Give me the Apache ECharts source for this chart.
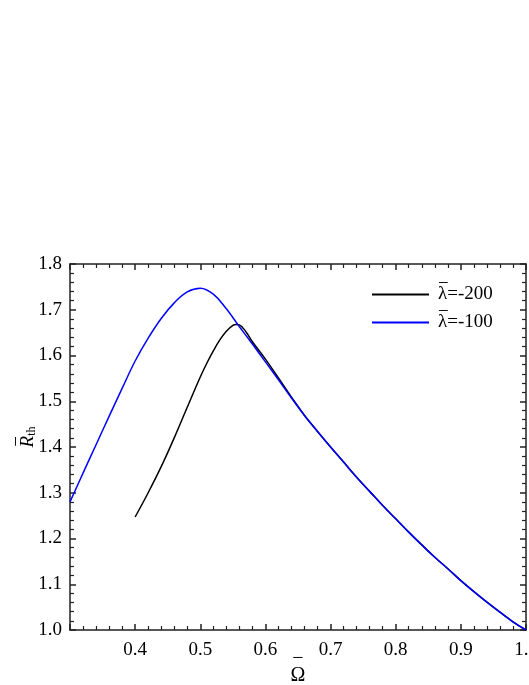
<!DOCTYPE html>
<html>
<head>
<meta charset="utf-8">
<script src="https://cdn.jsdelivr.net/npm/echarts@6/dist/echarts.min.js"></script>
<style>
  html, body { margin: 0; padding: 0; background: #fff; }
  #chart { width: 529px; height: 685px; }
</style>
</head>
<body>
<div id="chart"></div>
<script>
// lambda = -200 (black): starts near 0.4, peaks, then joins the blue curve
var omega200 = [0.40, 0.42, 0.44, 0.46, 0.48, 0.50, 0.51, 0.52, 0.53, 0.54, 0.55, 0.555, 0.56, 0.57, 0.58, 0.60, 0.62, 0.64, 0.66, 0.68, 0.70, 0.72, 0.74, 0.76, 0.78, 0.80, 0.82, 0.84, 0.86, 0.88, 0.90, 0.92, 0.94, 0.96, 0.98, 1.00];
var rth200 = [1.247, 1.300, 1.357, 1.420, 1.487, 1.553, 1.583, 1.610, 1.634, 1.653, 1.666, 1.668, 1.667, 1.652, 1.630, 1.592, 1.551, 1.509, 1.469, 1.434, 1.400, 1.367, 1.334, 1.303, 1.272, 1.243, 1.214, 1.186, 1.159, 1.134, 1.108, 1.084, 1.061, 1.039, 1.018, 1.000];
// lambda = -100 (blue)
var omega100 = [0.30, 0.32, 0.34, 0.36, 0.38, 0.40, 0.42, 0.44, 0.46, 0.48, 0.50, 0.52, 0.54, 0.56, 0.58, 0.60, 0.62, 0.64, 0.66, 0.68, 0.70, 0.72, 0.74, 0.76, 0.78, 0.80, 0.82, 0.84, 0.86, 0.88, 0.90, 0.92, 0.94, 0.96, 0.98, 1.00];
var rth100 = [1.280, 1.343, 1.405, 1.467, 1.528, 1.588, 1.638, 1.681, 1.715, 1.739, 1.747, 1.734, 1.702, 1.663, 1.625, 1.586, 1.547, 1.507, 1.469, 1.434, 1.400, 1.367, 1.334, 1.303, 1.272, 1.243, 1.214, 1.186, 1.159, 1.134, 1.108, 1.084, 1.061, 1.039, 1.018, 1.000];

var seriesNames = ['\u03bb=-200', '\u03bb=-100'];

function pairs(xs, ys) {
  return xs.map(function (x, i) { return [x, ys[i]]; });
}

var font = "'Liberation Serif', 'Times New Roman', serif";
var axisColor = '#222';
// bar drawn over the symbol on its own short line (combining macron renders badly)
var BAR = '\u2212';

function frameAxis(extra) {
  var base = {
    type: 'value',
    axisLine: { show: true, onZero: false, lineStyle: { color: axisColor, width: 1.5 } },
    axisTick: { show: true, inside: true, length: 6, lineStyle: { color: axisColor, width: 1.5 } },
    minorTick: { show: true, splitNumber: 5, length: 4, lineStyle: { color: axisColor, width: 1.2 } },
    splitLine: { show: false },
    axisLabel: { show: false },
    nameMoveOverlap: false
  };
  return Object.assign(base, extra);
}

var chart = echarts.init(document.getElementById('chart'));
chart.setOption({
  animation: false,
  backgroundColor: '#fff',
  grid: { left: 70, right: 3, top: 264, bottom: 55, containLabel: false, outerBoundsMode: 'none' },
  legend: {
    left: 367,
    top: 270,
    orient: 'vertical',
    itemWidth: 57,
    itemHeight: 2,
    itemGap: -3,
    icon: 'rect',
    formatter: function (name) {
      return '{m|' + BAR + '}\n{t|' + name + '}';
    },
    textStyle: {
      fontFamily: font, fontSize: 19, color: '#000',
      rich: {
        m: { fontFamily: font, fontSize: 19, lineHeight: 2, padding: [0, 0, 0, 4] },
        t: { fontFamily: font, fontSize: 19, lineHeight: 20, padding: [0, 0, 2, 4] }
      }
    },
    data: seriesNames
  },
  xAxis: [
    frameAxis({
      min: 0.3, max: 1.0, interval: 0.1,
      position: 'bottom',
      axisLabel: {
        show: true, showMinLabel: false, margin: 11,
        fontFamily: font, fontSize: 19, color: '#000',
        formatter: function (v) { return v.toFixed(1); }
      },
      name: '{m|' + BAR + '}\n{o|\u03a9}',
      nameLocation: 'middle',
      nameGap: 22,
      nameTextStyle: {
        color: '#000',
        rich: {
          m: { fontFamily: font, fontSize: 20, lineHeight: 14, align: 'center' },
          o: { fontFamily: font, fontSize: 20, lineHeight: 20, align: 'center' }
        }
      }
    }),
    frameAxis({ min: 0.3, max: 1.0, interval: 0.1, position: 'top' })
  ],
  yAxis: [
    frameAxis({
      min: 1.0, max: 1.8, interval: 0.1,
      position: 'left',
      axisLabel: {
        show: true, margin: 8,
        fontFamily: font, fontSize: 19, color: '#000',
        formatter: function (v) { return v.toFixed(1); }
      },
      name: '{m|' + BAR + '}\n{r|R}{s|th}',
      nameLocation: 'middle',
      nameGap: 32,
      nameRotate: 90,
      nameTextStyle: {
        color: '#000',
        rich: {
          m: { fontFamily: font, fontSize: 19, lineHeight: 2, padding: [0, 0, 0, 11] },
          r: { fontFamily: font, fontStyle: 'italic', fontSize: 19, lineHeight: 20, color: '#000', padding: [0, 0, 0, 20] },
          s: { fontFamily: font, fontSize: 12, color: '#000', verticalAlign: 'bottom', padding: [8, 0, 0, 0] }
        }
      }
    }),
    frameAxis({ min: 1.0, max: 1.8, interval: 0.1, position: 'right' })
  ],
  series: [
    {
      name: seriesNames[0],
      type: 'line',
      data: pairs(omega200, rth200),
      smooth: 0.4,
      showSymbol: false,
      color: '#000',
      lineStyle: { color: '#000', width: 1.5 }
    },
    {
      name: seriesNames[1],
      type: 'line',
      data: pairs(omega100, rth100),
      smooth: 0.4,
      showSymbol: false,
      color: '#0000ff',
      lineStyle: { color: '#0000ff', width: 1.5 }
    }
  ]
});
</script>
</body>
</html>
